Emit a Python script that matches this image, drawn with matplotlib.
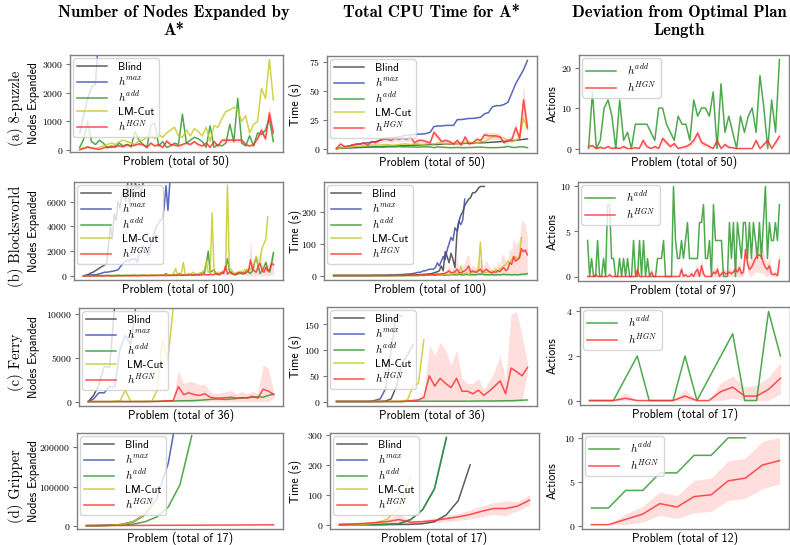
import numpy as np
import matplotlib
matplotlib.use('Agg')
import matplotlib.pyplot as plt
from matplotlib.ticker import FuncFormatter

plt.rcParams['font.family'] = 'cmss10'
plt.rcParams['mathtext.fontset'] = 'cm'
plt.rcParams['axes.unicode_minus'] = False

labels = ['Blind', r'$h^{max}$', r'$h^{add}$', 'LM-Cut', r'$h^{HGN}$']
colors = ['#404040', '#3b4cad', '#2f9a2f', '#c9c92a', '#ff3030']

# ---------------- (a) 8-puzzle, 50 problems ----------------
puzzle_n = 50
puzzle_nodes_blind = [3600, 5200, 7400, 9800, 12500]
puzzle_nodes_hmax = [580, 1200, 1800, 2200, 2300, 4500, 6500, 9000]
puzzle_nodes_hadd = [100, 380, 1000, 300, 200, 350, 250, 80, 150, 100,
                     250, 150, 200, 120, 650, 350, 200, 100, 850, 950,
                     150, 300, 100, 150, 250, 200, 1250, 250, 350, 450,
                     400, 300, 100, 850, 100, 200, 150, 250, 900, 300,
                     1800, 250, 150, 500, 150, 600, 550, 700, 1100, 300]
puzzle_nodes_lmcut = [50, 80, 100, 80, 60, 100, 150, 200, 250, 200,
                      300, 350, 300, 250, 200, 350, 350, 450, 600, 400,
                      550, 450, 600, 700, 800, 500, 450, 700, 500, 750,
                      650, 500, 800, 300, 850, 800, 1100, 1350, 1400, 1500,
                      1400, 1000, 1200, 600, 900, 1000, 2150, 1800, 3150, 1750]
puzzle_nodes_hgn = [20, 60, 120, 80, 50, 30, 80, 120, 100, 150,
                    150, 120, 200, 150, 180, 220, 200, 100, 250, 150,
                    200, 100, 320, 200, 180, 150, 200, 250, 200, 300,
                    200, 150, 250, 100, 300, 150, 350, 350, 350, 350,
                    350, 350, 200, 150, 200, 400, 700, 400, 1300, 600]
puzzle_nodes_hgn_std = [10, 20, 30, 20, 20, 10, 20, 30, 30, 40,
                        40, 30, 50, 40, 40, 50, 50, 30, 60, 40,
                        50, 30, 80, 50, 40, 40, 50, 60, 50, 70,
                        50, 40, 60, 30, 70, 40, 80, 80, 80, 80,
                        80, 80, 50, 40, 50, 100, 150, 100, 300, 150]

puzzle_time_blind = [0, 0.2, 0.3, 0.5, 0.6, 0.8, 1.0, 1.1, 1.2, 1.4,
                     1.5, 1.6, 1.8, 2.0, 2.1, 2.2, 2.3, 2.5, 2.6, 2.8,
                     3.0, 3.0, 3.2, 3.3, 3.5, 3.5, 3.6, 3.8, 4.0, 4.0,
                     4.1, 4.2, 4.3, 4.5, 4.6, 4.7, 4.8, 5.0, 5.1, 5.3,
                     5.5, 5.7, 6.0, 6.2, 6.5, 6.8, 7.1, 7.5, 8.0, 8.3]
puzzle_time_hmax = [0, 1, 1, 2, 3, 3.5, 4, 4.5, 5, 5.5,
                    6, 7, 8.5, 9, 9, 9.5, 10, 11, 11.5, 12,
                    12, 12.5, 12.5, 13, 14, 19, 19.5, 19.5, 20, 20,
                    20, 25, 25, 25.5, 26, 26, 26.5, 27, 30, 31,
                    36, 37, 37, 38, 40, 48, 56, 62, 68, 76]
puzzle_time_hadd = [0, 0.5, 1, 0.8, 1.2, 1.5, 1, 1.2, 1.4, 1.5,
                    1.5, 1.5, 1.2, 1.5, 1.5, 1.4, 1.8, 1.5, 1.5, 1.5,
                    1.4, 1.2, 1.5, 1.5, 1.4, 0.8, 1.5, 1.2, 1, 0.8,
                    0.8, 1, 0.8, 0.8, 0.9, 1, 1.2, 1.3, 1, 0.8,
                    0.8, 0.8, 1, 1.2, 2, 1, 1, 1.5, 1.5, 0.8]
puzzle_time_lmcut = [0, 0.5, 1, 1, 1.5, 2, 2, 2.5, 2.5, 3,
                     3, 3, 3.5, 3.5, 3, 3, 3.5, 4, 4, 3.5,
                     4, 4, 3.5, 4, 4.5, 4, 5, 4.5, 4, 4.5,
                     4, 4.5, 5, 5, 5.5, 5, 4.5, 6, 6, 8,
                     10, 10, 10, 9, 7, 6, 7, 10, 26, 17]
puzzle_time_hgn = [0, 4, 2, 2, 3, 4, 4, 5, 3, 6,
                   5, 7, 8, 8, 7, 9, 8, 9, 8, 10,
                   5, 7, 7, 6, 5, 14, 10, 6, 7, 6,
                   4, 7, 3, 10, 4, 5, 8, 7, 12, 11,
                   11, 11, 10, 5, 7, 8, 18, 9, 42, 18]
puzzle_time_hgn_std = [0, 1, 0.5, 0.5, 1, 1, 1, 1.5, 1, 2,
                       1.5, 2, 2, 2, 2, 2.5, 2, 2.5, 2, 3,
                       1.5, 2, 2, 2, 1.5, 3, 3, 2, 2, 2,
                       1.5, 2, 1, 3, 1.5, 1.5, 2.5, 2, 3, 3,
                       3, 3, 3, 1.5, 2, 3, 5, 3, 14, 6]

puzzle_dev_hadd = [0, 14, 0, 2, 10, 12, 8, 0, 12, 2,
                   4, 0, 6, 6, 6, 6, 4, 2, 10, 10,
                   6, 4, 2, 8, 6, 6, 2, 12, 8, 10,
                   10, 8, 14, 0, 16, 4, 8, 4, 0, 8,
                   4, 8, 10, 4, 18, 10, 0, 12, 4, 22]
puzzle_dev_hgn = [0.5, 0.7, 0, 0.3, 0, 0.5, 0, 0.2, 0, 0.5,
                  0, 0, 0.2, 0, 2, 0.5, 0, 0.5, 0, 2.5,
                  1.5, 0.5, 1.2, 0, 0.3, 0.5, 1, 2, 3.8, 1.5,
                  1, 0.5, 0, 2, 0, 1, 0.3, 0.2, 0, 0,
                  0, 0, 0, 2, 0, 1, 2, 0, 1.5, 3]
puzzle_dev_hgn_std = [0.5, 0.5, 0.1, 0.5, 0.1, 0.5, 0.1, 0.3, 0.1, 0.5,
                      0.1, 0.1, 0.3, 0.1, 0.8, 0.5, 0.1, 0.5, 0.1, 0.8,
                      0.7, 0.5, 0.7, 0.1, 0.4, 0.5, 0.6, 0.8, 1.0, 0.8,
                      0.6, 0.5, 0.1, 0.8, 0.1, 0.6, 0.4, 0.3, 0.1, 0.1,
                      0.1, 0.1, 0.1, 0.7, 0.1, 0.6, 0.7, 0.1, 0.7, 0.9]

# ---------------- (b) Blocksworld, 100 problems ----------------
blocks_n = 100
blocks_dev_n = 97
blocks_nodes_blind = [0, 50, 100, 150, 250, 300, 400, 500, 600, 700,
                      800, 900, 1000, 2500, 4000, 3000, 5000, 4500, 6000, 5500,
                      6500, 7000, 6000, 7500, 5800, 7500, 6200, 7500, 7000, 7400,
                      6500, 7500, 9000, 12000, 15000]
blocks_nodes_hmax = [0, 20, 40, 60, 80, 100, 100, 120, 150, 200,
                     250, 300, 300, 320, 350, 380, 400, 450, 500, 700,
                     900, 1100, 1200, 1300, 1200, 1400, 1300, 1400, 1100, 1800,
                     2000, 2400, 2000, 1800, 1700, 2500, 3000, 3500, 4000, 4200,
                     4500, 4600, 5500, 7300, 5300, 7600, 9000, 11000]
blocks_nodes_hadd = [0, 10, 20, 10, 30, 20, 10, 30, 40, 20,
                     30, 20, 40, 30, 50, 20, 30, 40, 60, 30,
                     40, 30, 50, 40, 30, 60, 40, 50, 30, 40,
                     60, 50, 40, 30, 50, 60, 40, 50, 60, 50,
                     70, 60, 80, 200, 60, 50, 70, 60, 80, 100,
                     200, 60, 80, 90, 100, 150, 70, 80, 100, 120,
                     90, 150, 300, 200, 1000, 2000, 300, 400, 500, 200,
                     100, 150, 200, 300, 600, 1400, 400, 300, 150, 100,
                     120, 200, 250, 150, 200, 500, 300, 200, 400, 1000,
                     1500, 800, 200, 400, 700, 1100, 500, 300, 1000, 1900]
blocks_nodes_lmcut = [0, 0, 10, 0, 10, 20, 10, 0, 10, 20,
                      10, 20, 30, 20, 10, 20, 30, 20, 30, 20,
                      30, 40, 30, 20, 30, 40, 50, 40, 30, 50,
                      40, 50, 60, 50, 40, 60, 50, 70, 60, 50,
                      70, 80, 60, 70, 100, 80, 100, 200, 600, 100,
                      100, 200, 1100, 150, 100, 200, 150, 300, 200, 150,
                      200, 250, 300, 500, 1200, 300, 400, 5100, 300, 200,
                      300, 250, 300, 400, 500, 7350, 600, 500, 300, 200,
                      300, 250, 400, 300, 500, 400, 600, 500, 800, 1000,
                      1600, 800, 1200, 2200, 2600, 3000, 4800]
blocks_nodes_hgn = [0, 0, 10, 0, 0, 10, 0, 10, 0, 10,
                    0, 10, 20, 10, 0, 10, 20, 10, 20, 10,
                    20, 10, 20, 30, 20, 10, 20, 30, 20, 30,
                    20, 30, 40, 30, 20, 30, 40, 30, 40, 30,
                    40, 50, 40, 30, 40, 50, 40, 60, 50, 40,
                    60, 50, 70, 60, 50, 80, 70, 60, 80, 70,
                    90, 80, 100, 120, 100, 80, 150, 100, 120, 200,
                    150, 100, 300, 200, 800, 150, 300, 200, 150, 100,
                    200, 300, 200, 250, 200, 300, 400, 1300, 600, 400,
                    300, 800, 1000, 500, 300, 700, 400, 500, 1000, 900]
blocks_nodes_hgn_std = [0, 0, 5, 0, 0, 5, 0, 5, 0, 5,
                        0, 5, 10, 5, 0, 5, 10, 5, 10, 5,
                        10, 5, 10, 15, 10, 5, 10, 15, 10, 15,
                        10, 15, 20, 15, 10, 15, 20, 15, 20, 15,
                        20, 25, 20, 15, 20, 25, 20, 30, 25, 20,
                        30, 25, 35, 30, 25, 40, 35, 30, 40, 35,
                        45, 40, 50, 60, 100, 40, 80, 50, 60, 100,
                        80, 50, 150, 100, 600, 100, 200, 100, 80, 50,
                        100, 150, 100, 150, 100, 300, 400, 1800, 600, 400,
                        300, 700, 1000, 500, 300, 600, 500, 600, 900, 800]

blocks_time_blind = [0, 0, 0, 0, 0, 0, 0, 0, 0, 0,
                     0, 0, 0, 0, 0, 0, 0, 0, 0, 0,
                     0, 0, 0, 0, 0, 0, 0, 0, 0, 0,
                     1, 1, 1, 1, 1, 1, 1, 1, 2, 2,
                     2, 2, 2, 3, 3, 3, 4, 4, 5, 5,
                     6, 8, 10, 12, 15, 30, 15, 75, 60, 40,
                     70, 50, 25, 130, 170, 190, 200, 220, 230, 240,
                     245, 260, 260, 265, 275, 280, 280, 280]
blocks_time_hmax = [0, 0, 0, 0, 0, 0, 0, 0, 0, 0,
                    0, 0, 0, 0, 0, 0, 0, 0, 0, 0,
                    1, 1, 1, 1, 1, 1, 1, 1, 2, 2,
                    2, 2, 2, 3, 3, 3, 4, 4, 5, 5,
                    6, 7, 8, 10, 10, 12, 15, 15, 18, 20,
                    20, 20, 25, 40, 30, 45, 60, 50, 80, 100,
                    120, 110, 150, 140, 170, 160, 175, 240]
blocks_time_hadd = [0, 0, 0, 0, 0, 0, 0, 0, 0, 0,
                    0, 0, 0, 0, 0, 0, 0, 0, 0, 0,
                    0, 0, 0, 0, 0, 0, 0, 0, 0, 0,
                    0, 0, 0, 0, 0, 0, 0, 0, 0, 0,
                    0, 0, 0, 0, 1, 1, 1, 1, 1, 1,
                    1, 1, 1, 2, 1, 2, 2, 1, 2, 2,
                    3, 2, 3, 2, 4, 3, 2, 3, 4, 3,
                    2, 3, 2, 3, 4, 5, 4, 3, 2, 3,
                    2, 3, 2, 2, 3, 2, 3, 4, 3, 3,
                    3, 2, 3, 3, 2, 3, 4, 4, 5, 6]
blocks_time_lmcut = [0, 0, 0, 0, 0, 0, 0, 0, 0, 0,
                     0, 0, 0, 0, 0, 0, 0, 0, 0, 0,
                     0, 0, 0, 0, 0, 0, 0, 0, 0, 0,
                     0, 0, 0, 0, 0, 0, 0, 0, 0, 0,
                     0, 0, 0, 0, 0, 0, 0, 1, 2, 1,
                     1, 2, 5, 2, 1, 3, 2, 5, 3, 4,
                     3, 5, 10, 5, 8, 30, 5, 6, 8, 5,
                     6, 8, 10, 15, 20, 105, 10, 8, 10, 12,
                     10, 15, 12, 20, 15, 20, 25, 30, 35, 45,
                     40, 50, 55, 60, 50, 65, 120]
blocks_time_hgn = [0, 0, 0, 0, 0, 0, 0, 0, 0, 0,
                   0, 0, 0, 0, 0, 0, 0, 0, 0, 0,
                   0, 0, 0, 0, 0, 0, 0, 0, 0, 0,
                   0, 0, 0, 0, 0, 0, 0, 1, 1, 1,
                   1, 1, 2, 1, 2, 2, 1, 2, 3, 2,
                   3, 4, 3, 5, 4, 6, 5, 8, 10, 15,
                   8, 10, 12, 20, 10, 8, 12, 15, 20, 30,
                   10, 15, 12, 10, 15, 20, 10, 15, 20, 15,
                   10, 8, 12, 10, 15, 12, 20, 25, 15, 20,
                   40, 35, 60, 45, 50, 55, 85, 75, 80, 65]
blocks_time_hgn_std = [0, 0, 0, 0, 0, 0, 0, 0, 0, 0,
                       0, 0, 0, 0, 0, 0, 0, 0, 0, 0,
                       0, 0, 0, 0, 0, 0, 0, 0, 0, 0,
                       0, 0, 0, 0, 0, 0, 0, 0.5, 0.5, 0.5,
                       0.5, 0.5, 1, 0.5, 1, 1, 0.5, 1, 2, 1,
                       2, 3, 2, 4, 3, 5, 4, 8, 10, 20,
                       10, 15, 15, 40, 15, 10, 20, 25, 40, 35,
                       15, 20, 15, 15, 40, 30, 15, 20, 30, 20,
                       15, 10, 20, 15, 30, 20, 45, 40, 25, 30,
                       45, 40, 60, 50, 55, 60, 90, 95, 80, 60]

blocks_dev_hadd = [4, 0, 2, 0, 0, 4, 0, 0, 2, 0,
                   8, 8, 2, 2, 0, 0, 2, 0, 2, 0,
                   2, 0, 0, 4, 0, 0, 4, 0, 4, 0,
                   2, 0, 0, 0, 0, 2, 2, 2, 4, 0,
                   0, 0, 0, 10, 4, 2, 2, 4, 2, 4,
                   6, 2, 2, 2, 2, 2, 6, 6, 8, 2,
                   2, 4, 0, 8, 4, 4, 4, 4, 0, 0,
                   0, 6, 2, 6, 0, 6, 4, 2, 6, 6,
                   2, 6, 2, 6, 4, 2, 6, 2, 6, 10,
                   2, 6, 4, 4, 6, 4, 8]
blocks_dev_hgn = [0, 0, 0, 0, 0.2, 0, 0, 0, 0, 0,
                  0, 0.2, 0, 0, 0, 0, 0, 0, 0, 0,
                  0, 0, 0, 0, 0, 0.8, 0, 0, 0, 0,
                  0, 0, 0.5, 0, 0, 0, 0, 0, 0, 0,
                  0, 0, 0, 0, 0, 0, 0, 0.8, 0, 0.2,
                  0, 0, 0.3, 0, 0.5, 0.8, 0, 1.2, 0.3, 0,
                  0, 0, 0, 0.5, 0.3, 0.8, 0, 0.3, 0.5, 0.3,
                  0.3, 0.5, 0.3, 0.5, 0.8, 0.5, 1.0, 0.3, 0.5, 3.0,
                  1.5, 0.8, 1.0, 1.5, 2.0, 2.3, 2.4, 2.2, 1.5, 1.0,
                  0.8, 1.2, 0.3, 0.2, 0.3, 0.1, 1.8]
blocks_dev_hgn_std = [0, 0, 0, 0, 0.3, 0, 0, 0, 0, 0,
                      0, 0.3, 0, 0, 0, 0, 0, 0, 0, 0,
                      0, 0, 0, 0, 0, 0.6, 0, 0, 0, 0,
                      0, 0, 0.5, 0, 0, 0, 0, 0, 0, 0,
                      0, 0, 0, 0, 0, 0, 0, 0.7, 0, 0.3,
                      0, 0, 0.4, 0, 0.6, 0.8, 0, 1.0, 0.4, 0,
                      0, 0, 0, 0.6, 0.4, 0.8, 0, 0.4, 0.6, 0.4,
                      0.4, 0.6, 0.4, 0.6, 0.8, 0.6, 1.0, 0.4, 0.6, 1.2,
                      1.0, 0.8, 1.0, 1.2, 1.5, 1.8, 2.0, 1.8, 1.2, 1.0,
                      0.8, 1.0, 0.4, 0.3, 0.4, 0.2, 1.5]

# ---------------- (c) Ferry, 36 problems ----------------
ferry_n = 36
ferry_dev_n = 17
ferry_nodes_blind = [0, 700, 1900, 4000, 3900, 11000, 15000]
ferry_nodes_hmax = [0, 300, 1000, 1000, 1700, 1700, 6000, 7500, 6500, 11000]
ferry_nodes_hadd = [0, 0, 0, 0, 0, 0, 10, 10, 10, 20,
                    20, 20, 30, 30, 40, 50, 60, 80, 100, 100,
                    120, 150, 200, 250, 300, 280, 250, 300, 350, 400,
                    450, 500, 550, 500, 700, 850]
ferry_nodes_lmcut = [0, 0, 0, 0, 0, 50, 100, 1300, 0, 0,
                     0, 20, 50, 1300, 7000, 4700, 10500]
ferry_nodes_hgn = [0, 0, 0, 0, 0, 0, 0, 0, 0, 0,
                   0, 0, 0, 20, 50, 100, 100, 1700, 800, 1000,
                   800, 700, 900, 500, 400, 400, 450, 500, 400, 450,
                   400, 600, 400, 1400, 1200, 800]
ferry_nodes_hgn_std = [0, 0, 0, 0, 0, 0, 0, 0, 0, 0,
                       0, 0, 0, 20, 50, 80, 100, 1900, 1200, 1300,
                       1400, 1200, 1100, 600, 500, 600, 700, 800, 500, 700,
                       500, 600, 500, 2800, 2600, 300]

ferry_time_blind = [0, 0, 0, 0, 0, 0, 0, 0, 0, 1, 5, 30, 75, 90, 110]
ferry_time_hmax = [0, 0, 0, 0, 0, 0, 0, 2, 5, 25, 100, 170, 165]
ferry_time_hadd = [0, 0, 0, 0, 0, 0, 0, 0, 0, 0,
                   0, 0, 0, 0.5, 0.5, 0.5, 0.5, 0.5, 0.5, 0.5,
                   0.5, 0.5, 0.5, 0.5, 0.8, 0.8, 1, 1, 1, 1,
                   1.2, 1.5, 1.5, 2, 2.5, 3]
ferry_time_lmcut = [0, 0, 0, 0, 0, 0, 0, 0, 0, 0, 0, 0, 1, 3, 30, 35, 120]
ferry_time_hgn = [0, 0, 0, 0, 0, 0, 0, 0, 0, 0,
                  0, 0, 0, 1, 2, 3, 8, 50, 30, 45,
                  35, 27, 45, 20, 20, 15, 22, 12, 20, 30,
                  40, 15, 65, 58, 50, 66]
ferry_time_hgn_std = [0, 0, 0, 0, 0, 0, 0, 0, 0, 0,
                      0, 0, 0, 0.5, 1, 2, 5, 60, 60, 70,
                      65, 43, 55, 25, 15, 20, 23, 10, 20, 30,
                      50, 25, 105, 117, 80, 10]

ferry_dev_hadd = [0, 0, 0, 1, 2, 0, 0, 0, 2, 0, 1, 2, 3, 0, 0, 4, 2]
ferry_dev_hgn = [0, 0, 0, 0.1, 0, 0, 0, 0, 0.2, 0, 0, 0.4, 0.6, 0.2, 0.2, 0.5, 1.0]
ferry_dev_hgn_std = [0, 0, 0, 0.25, 0, 0, 0, 0, 0.3, 0, 0, 0.4, 0.5, 0.4, 0.5, 0.55, 0.7]

# ---------------- (d) Gripper, 17 problems ----------------
gripper_n = 17
gripper_dev_n = 12
gripper_nodes_blind = [0, 300, 1000, 3000, 10000, 28000, 68000]
gripper_nodes_hmax = [0, 300, 1000, 3000, 10000, 28000, 68000, 160000, 330000]
gripper_nodes_hadd = [0, 200, 600, 1500, 4000, 10000, 22000, 48000, 105000, 230000]
gripper_nodes_lmcut = [0, 300, 1000, 3000, 10500, 29000, 67000]
gripper_nodes_hgn = [300, 400, 500, 600, 700, 800, 900, 1000, 1100, 1200,
                     1400, 1500, 1600, 1800, 1900, 2100, 2300]
gripper_nodes_hgn_std = [50, 50, 60, 60, 70, 80, 90, 100, 100, 120,
                         130, 140, 150, 160, 170, 190, 200]

gripper_time_blind = [0, 0, 0, 0, 0, 0.5, 1, 3, 10, 33, 80, 200]
gripper_time_hmax = [0, 0, 0, 0, 1, 3, 17, 50, 120, 290]
gripper_time_hadd = [0, 0, 0, 0, 1, 3, 17, 50, 120, 292]
gripper_time_lmcut = [0, 0, 1, 5, 18, 55, 162]
gripper_time_hgn = [0, 2, 4, 7, 10, 17, 8, 10, 14, 20,
                    26, 34, 45, 54, 54, 62, 82]
gripper_time_hgn_std = [0, 1, 2, 4, 8, 18, 6, 6, 8, 10,
                        12, 15, 18, 20, 25, 15, 18]

gripper_dev_hadd = [2, 2, 4, 4, 6, 6, 8, 8, 10, 10]
gripper_dev_hgn = [0.1, 0.1, 0.7, 1.3, 2.5, 2.1, 3.3, 3.5, 5.1, 5.4, 6.9, 7.4]
gripper_dev_hgn_std = [0, 0, 0.6, 0.9, 1.35, 1.3, 1.85, 1.9, 2.25, 2.3, 2.7, 2.65]


def int_fmt(v, pos):
    return r'$%d$' % int(round(v))


def draw(ax, n, lines, hgn, hgn_std, ylabel, yticks, label_x, ylim=None):
    for vals, c, lab in lines:
        v = np.array(vals, dtype=float)
        ax.plot(np.arange(len(v)), v, color=c, lw=1.1, alpha=0.85, label=lab)
    m = np.array(hgn, dtype=float)
    s = np.array(hgn_std, dtype=float)
    xs = np.arange(len(m))
    ax.fill_between(xs, np.maximum(m - s, 0), m + s, color='red', alpha=0.13, lw=0)
    ax.plot(xs, m, color=colors[4], lw=1.1, alpha=0.85, label=labels[4])

    ax.set_xlim(-0.05 * (n - 1), 1.05 * (n - 1))
    if ylim is not None:
        ax.set_ylim(*ylim)
    ax.set_xticks([])
    ax.set_yticks(yticks)
    ax.yaxis.set_major_formatter(FuncFormatter(int_fmt))
    ax.tick_params(axis='y', labelsize=7, length=3, color='0.45', pad=2)
    for sp in ax.spines.values():
        sp.set_color('0.5')
        sp.set_linewidth(1.0)
    ax.set_ylabel(ylabel, fontsize=8.5)
    # put the y label at a fixed pixel column, as in the reference
    bb = ax.get_position()
    ax.yaxis.set_label_coords((label_x / 790 - bb.x0) / bb.width, 0.5)
    ax.set_xlabel('Problem (total of %d)' % n, fontsize=8.5, labelpad=2)
    ax.legend(loc='upper left', fontsize=8, labelspacing=0.2, handlelength=2.7,
              borderpad=0.35, handletextpad=1.0, borderaxespad=0.3, framealpha=0.8)


fig = plt.figure(figsize=(7.9, 5.45), dpi=100)


def add_ax(l, t, r, b):
    return fig.add_axes([l / 790, 1 - b / 545, (r - l) / 790, (b - t) / 545])


# (left, top, right, bottom) in pixels
boxes = [
    [(70, 55, 283, 152), (327, 56, 537, 153), (579, 55, 789, 153)],
    [(74, 182, 283, 280), (324, 182, 537, 280), (578, 182, 789, 281)],
    [(79, 308, 283, 406), (327, 307, 537, 406), (580, 307, 790, 405)],
    [(77, 433, 283, 529), (330, 433, 539, 529), (582, 433, 789, 529)],
]
label_cols = [40, 302, 559]

rows = [
    dict(name='(a) 8-puzzle', n=puzzle_n, dev_n=puzzle_n,
         nodes=[puzzle_nodes_blind, puzzle_nodes_hmax, puzzle_nodes_hadd, puzzle_nodes_lmcut],
         nodes_hgn=(puzzle_nodes_hgn, puzzle_nodes_hgn_std), nodes_ticks=[0, 1000, 2000, 3000],
         nodes_ylim=(-60, 3310),
         time=[puzzle_time_blind, puzzle_time_hmax, puzzle_time_hadd, puzzle_time_lmcut],
         time_hgn=(puzzle_time_hgn, puzzle_time_hgn_std), time_ticks=[0, 25, 50, 75],
         dev_hadd=puzzle_dev_hadd, dev_hgn=(puzzle_dev_hgn, puzzle_dev_hgn_std), dev_ticks=[0, 10, 20]),
    dict(name='(b) Blocksworld', n=blocks_n, dev_n=blocks_dev_n,
         nodes=[blocks_nodes_blind, blocks_nodes_hmax, blocks_nodes_hadd, blocks_nodes_lmcut],
         nodes_hgn=(blocks_nodes_hgn, blocks_nodes_hgn_std), nodes_ticks=[0, 2000, 4000, 6000],
         nodes_ylim=(-330, 7600),
         time=[blocks_time_blind, blocks_time_hmax, blocks_time_hadd, blocks_time_lmcut],
         time_hgn=(blocks_time_hgn, blocks_time_hgn_std), time_ticks=[0, 100, 200],
         dev_hadd=blocks_dev_hadd, dev_hgn=(blocks_dev_hgn, blocks_dev_hgn_std), dev_ticks=[0, 5, 10]),
    dict(name='(c) Ferry', n=ferry_n, dev_n=ferry_dev_n,
         nodes=[ferry_nodes_blind, ferry_nodes_hmax, ferry_nodes_hadd, ferry_nodes_lmcut],
         nodes_hgn=(ferry_nodes_hgn, ferry_nodes_hgn_std), nodes_ticks=[0, 5000, 10000],
         nodes_ylim=(-500, 10650),
         time=[ferry_time_blind, ferry_time_hmax, ferry_time_hadd, ferry_time_lmcut],
         time_hgn=(ferry_time_hgn, ferry_time_hgn_std), time_ticks=[0, 50, 100, 150],
         dev_hadd=ferry_dev_hadd, dev_hgn=(ferry_dev_hgn, ferry_dev_hgn_std), dev_ticks=[0, 2, 4]),
    dict(name='(d) Gripper', n=gripper_n, dev_n=gripper_dev_n,
         nodes=[gripper_nodes_blind, gripper_nodes_hmax, gripper_nodes_hadd, gripper_nodes_lmcut],
         nodes_hgn=(gripper_nodes_hgn, gripper_nodes_hgn_std), nodes_ticks=[0, 100000, 200000],
         nodes_ylim=(-8500, 237000),
         time=[gripper_time_blind, gripper_time_hmax, gripper_time_hadd, gripper_time_lmcut],
         time_hgn=(gripper_time_hgn, gripper_time_hgn_std), time_ticks=[0, 100, 200, 300],
         dev_hadd=gripper_dev_hadd, dev_hgn=(gripper_dev_hgn, gripper_dev_hgn_std), dev_ticks=[0, 5, 10]),
]

for i, row in enumerate(rows):
    ax1 = add_ax(*boxes[i][0])
    draw(ax1, row['n'], list(zip(row['nodes'], colors[:4], labels[:4])),
         row['nodes_hgn'][0], row['nodes_hgn'][1], 'Nodes Expanded',
         row['nodes_ticks'], label_cols[0], row['nodes_ylim'])
    ax2 = add_ax(*boxes[i][1])
    draw(ax2, row['n'], list(zip(row['time'], colors[:4], labels[:4])),
         row['time_hgn'][0], row['time_hgn'][1], 'Time (s)', row['time_ticks'], label_cols[1])
    ax3 = add_ax(*boxes[i][2])
    draw(ax3, row['dev_n'], [(row['dev_hadd'], colors[2], labels[2])],
         row['dev_hgn'][0], row['dev_hgn'][1], 'Actions', row['dev_ticks'], label_cols[2])

    t, b = boxes[i][0][1], boxes[i][0][3]
    fig.text(16 / 790, 1 - ((t + b) / 2 + 5) / 545, row['name'], rotation=90,
             ha='center', va='center', fontfamily='cmr10', fontsize=10.5)

fig.text(174 / 790, 1 - 5 / 545, 'Number of Nodes Expanded by\nA*', ha='center', va='top',
         fontfamily='cmb10', fontsize=12, linespacing=1.25)
fig.text(431 / 790, 1 - 5 / 545, 'Total CPU Time for A*', ha='center', va='top',
         fontfamily='cmb10', fontsize=12)
fig.text(679 / 790, 1 - 5 / 545, 'Deviation from Optimal Plan\nLength', ha='center', va='top',
         fontfamily='cmb10', fontsize=12, linespacing=1.25)

fig.savefig('out.png', dpi=100)
